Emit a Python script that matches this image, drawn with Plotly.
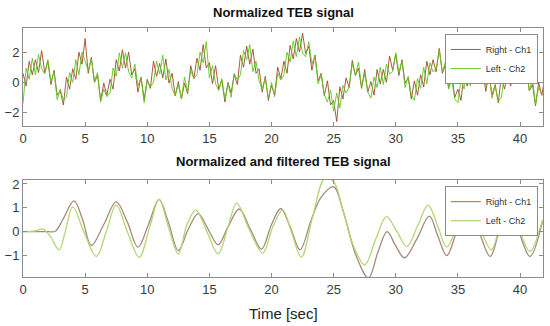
import plotly.graph_objects as go

# ---------------- data ----------------
sample_step = 0.25
time_raw = [round(i * sample_step, 2) for i in range(169)]

right_raw = [
    0.6, -0.25, 1.4, 0.5, 1.5, 0.65, 2.1, 0.65, 1.4, -0.15, 0.8, -0.85, -0.55, -1.5, 0.35, -0.45,
    0.9, 0.2, 2.0, 1.2, 2.9, 0.6, 1.65, 0.0, 0.45, -1.2, -0.05, -0.85, 0.2, -0.45, 1.5, 0.75,
    2.15, 0.95, 2.0, 0.5, 0.9, -0.65, 0.35, -1.15, 0.2, -0.4, 1.4, 0.4, 1.25, 0.3, 1.55, -0.05,
    0.6, -0.9, 0.05, -1.1, -0.05, -0.75, 1.1, 0.25, 1.6, 0.8, 2.5, 0.95, 1.3, -0.1, 1.1, -0.45,
    0.15, -1.3, 0.0, -0.7, 0.5, -0.15, 1.8, 1.0, 2.4, 1.2, 2.2, 0.6, 0.9, -0.65, 0.4, -1.2,
    -0.2, -0.85, 1.0, 0.25, 1.4, 0.6, 2.45, 1.55, 2.9, 2.0, 3.25, 1.9, 2.4, 0.8, 1.8, 0.1,
    0.6, -0.9, 0.1, -1.5, -1.2, -2.6, -0.3, -1.1, 0.3, -0.35, 1.45, 0.45, 0.95, -0.4, 0.85, -0.65,
    0.05, -0.85, 0.85, -0.1, 0.85, 0.0, 1.75, 0.8, 1.85, 0.45, 1.5, -0.05, 0.3, -1.1, 0.1, -0.85,
    0.5, -0.3, 1.4, 0.5, 1.5, 0.7, 2.25, 0.6, 1.15, -0.35, 0.6, -1.0, -0.45, -1.2, 0.65, -0.25,
    0.95, 0.05, 1.65, 0.35, 0.8, -0.6, 0.6, -0.85, -0.15, -1.35, 0.4, -0.45, 0.6, -0.25, 1.5, 0.55,
    1.4, -0.05, 1.0, -0.55, -0.15, -1.55, 0.0, -0.85, 0.3,
]
left_raw = [
    -1.4, 0.95, 0.2, 1.6, 0.5, 1.85, 0.9, 0.55, 1.5, 0.05, 0.7, -1.15, -0.45, -1.2, -0.95, 0.65,
    0.0, 1.5, 0.5, 2.0, 1.4, 0.8, 1.55, 0.1, 0.65, -1.3, -0.45, -0.95, -0.7, 0.95, 0.4, 1.95,
    0.95, 1.95, 0.7, 0.3, 1.2, -0.25, 0.35, -1.35, 0.1, -0.3, 0.0, 1.4, 0.55, 1.8, 0.15, 0.85,
    -0.4, -0.9, -0.15, -1.1, 0.35, -0.65, 0.8, 0.25, 0.5, 2.0, 1.3, 2.7, 0.3, 1.1, -0.1, -0.55,
    0.25, -1.1, -0.1, -1.0, 0.6, 0.15, 0.5, 2.1, 1.5, 2.5, 0.7, 1.4, 0.1, -0.45, 0.3, -1.1,
    0.0, -0.95, 0.6, 0.15, 0.5, 2.0, 1.35, 2.75, 1.7, 3.0, 1.95, 1.7, 2.7, 1.2, 1.8, -0.1,
    0.5, -0.8, -1.3, -0.5, -1.9, -0.7, -1.7, -0.2, -0.7, -0.35, 1.25, 0.45, 1.35, -0.3, 0.55, -0.65,
    -1.05, 0.35, -0.35, 1.0, -0.15, 1.2, 0.55, 0.7, 1.95, 0.65, 1.4, -0.35, 0.4, -0.8, -1.2, 0.25,
    -0.4, 1.0, -0.1, 1.3, 0.7, 0.9, 2.15, 0.7, 1.35, -0.45, 0.2, -1.1, -1.35, 0.2, -0.45, 0.95,
    -0.25, 1.05, 0.35, 0.15, 1.1, -0.2, 0.6, -1.05, -0.25, -1.25, -1.0, 0.55, -0.1, 1.25, 0.1, 1.45,
    0.4, -0.05, 0.8, -0.55, 0.25, -1.45, -0.3, -0.85, -0.8,
]

time_right_f = [0, 1, 2, 2.6, 3.2, 4.1, 4.8, 5.5, 6.5, 7.5, 8.4, 9.25, 10.1, 10.95, 11.7, 12.5,
                13.3, 14.1, 14.9, 15.7, 16.5, 17.4, 18.3, 19.2, 20.0, 20.75, 21.5, 22.3, 23.2,
                24.0, 25.0, 25.8, 26.8, 27.8, 28.6, 29.3, 30.0, 30.7, 31.7, 32.7, 33.4, 34.1,
                34.9, 35.8, 36.7, 37.6, 38.3, 39.0, 39.9, 40.8, 41.8]
right_filt = [0, 0, 0, 0.02, 0.5, 1.29, 0.5, -0.58, 0.3, 1.25, 0.4, -0.65, 0.3, 1.35, 0.4, -0.79,
              0.1, 0.76, 0.1, -0.55, 0.2, 0.95, 0.1, -0.73, 0.3, 0.97, 0.2, -0.76, 0.5,
              1.45, 1.88, 0.8, -1.0, -1.94, -0.8, 0.0, -0.6, -1.1, -0.3, 0.65, -0.2, -1.0,
              0.0, 1.1, 0.0, -1.04, 0.0, 1.04, 0.0, -1.04, 0.42]

time_left_f = [0, 1.0, 1.6, 2.2, 2.9, 3.4, 4.0, 4.9, 5.9, 6.7, 7.5, 8.4, 9.35, 10.2, 10.95, 11.7,
               12.5, 13.2, 13.9, 14.8, 15.7, 16.5, 17.2, 18.2, 19.3, 20.1, 20.9, 21.6, 22.4,
               23.3, 24.3, 25.0, 25.7, 26.6, 27.5, 28.4, 29.25, 30.1, 30.9, 31.8, 32.6, 33.4,
               34.1, 35.0, 35.8, 36.8, 37.7, 38.4, 39.1, 40.0, 40.8, 41.8]
left_filt = [0, 0.03, 0.11, -0.2, -0.76, 0.0, 1.04, 0.0, -1.04, 0.0, 1.11, 0.0, -1.08, 0.2, 1.35, 0.2,
             -0.93, 0.3, 0.9, 0.0, -0.93, 0.2, 1.2, 0.1, -0.9, 0.2, 0.9, 0.0, -1.07,
             0.6, 2.25, 2.1, 1.0, -0.6, -1.39, -0.3, 0.63, 0.0, -0.62, 0.3, 1.11, 0.2,
             -0.65, 0.3, 1.14, 0.1, -0.76, 0.3, 1.11, 0.0, -0.83, 0.5]

series_names = ["Right - Ch1", "Left - Ch2"]
x_ticks = [0, 5, 10, 15, 20, 25, 30, 35, 40]

# ---------------- styles ----------------
RIGHT_RAW_C = "#9c4a2a"
LEFT_RAW_C = "#5cc81a"
RIGHT_F_C = "#a88a78"
LEFT_F_C = "#b2d677"
FONT = "Liberation Sans, Arial, sans-serif"

fig = go.Figure()
fig.add_trace(go.Scatter(x=time_raw, y=right_raw, mode="lines", name=series_names[0],
                         line=dict(color=RIGHT_RAW_C, width=0.9), xaxis="x", yaxis="y",
                         legend="legend"))
fig.add_trace(go.Scatter(x=time_raw, y=left_raw, mode="lines", name=series_names[1],
                         line=dict(color=LEFT_RAW_C, width=0.9), xaxis="x", yaxis="y",
                         legend="legend"))
fig.add_trace(go.Scatter(x=time_right_f, y=right_filt, mode="lines", name=series_names[0],
                         line=dict(color=RIGHT_F_C, width=1.3, shape="spline", smoothing=1.0),
                         xaxis="x2", yaxis="y2", legend="legend2"))
fig.add_trace(go.Scatter(x=time_left_f, y=left_filt, mode="lines", name=series_names[1],
                         line=dict(color=LEFT_F_C, width=1.3, shape="spline", smoothing=1.0),
                         xaxis="x2", yaxis="y2", legend="legend2"))

axis_common = dict(showgrid=False, zeroline=False, showline=True, linecolor="#8c8c8c",
                   linewidth=1, mirror="ticks", ticks="inside", ticklen=4, tickcolor="#8c8c8c",
                   automargin=False,
                   tickfont=dict(size=13, color="#3a3a3a", family=FONT))

legend_common = dict(xanchor="right", yanchor="top", bgcolor="white",
                     bordercolor="#8c8c8c", borderwidth=1,
                     font=dict(size=9, color="#333333", family=FONT),
                     itemwidth=30, tracegroupgap=0)

fig.update_layout(
    width=550, height=326,
    margin=dict(l=23, r=7, t=28, b=49),
    paper_bgcolor="white", plot_bgcolor="white",
    font=dict(family=FONT),
    xaxis=dict(domain=[0, 1], anchor="y", range=[0, 41.85], tickvals=x_ticks, **axis_common),
    yaxis=dict(domain=[0.606, 1], anchor="x", range=[-2.9, 3.6], tickvals=[-2, 0, 2], **axis_common),
    xaxis2=dict(domain=[0, 1], anchor="y2", range=[0, 41.85], tickvals=x_ticks, **axis_common),
    yaxis2=dict(domain=[0, 0.39], anchor="x2", range=[-1.9, 2.17], tickvals=[-1, 0, 1, 2], **axis_common),
    showlegend=True,
    legend=dict(x=0.99, y=0.976, **legend_common),
    legend2=dict(x=0.99, y=0.365, **legend_common),
    annotations=[
        dict(text="<b>Normalized TEB signal</b>", x=0.5, y=1.064, xref="paper", yref="paper",
             xanchor="center", yanchor="middle", showarrow=False,
             font=dict(size=13, color="#111111", family=FONT)),
        dict(text="<b>Normalized and filtered TEB signal</b>", x=0.5, y=0.462, xref="paper", yref="paper",
             xanchor="center", yanchor="middle", showarrow=False,
             font=dict(size=13, color="#111111", family=FONT)),
        dict(text="Time [sec]", x=0.5, y=-0.145, xref="paper", yref="paper",
             xanchor="center", yanchor="middle", showarrow=False,
             font=dict(size=15, color="#222222", family=FONT)),
    ],
)

fig.write_html("out.html", config={"displayModeBar": False},
               post_script="document.body.style.margin='0px';document.body.style.overflow='hidden';")
